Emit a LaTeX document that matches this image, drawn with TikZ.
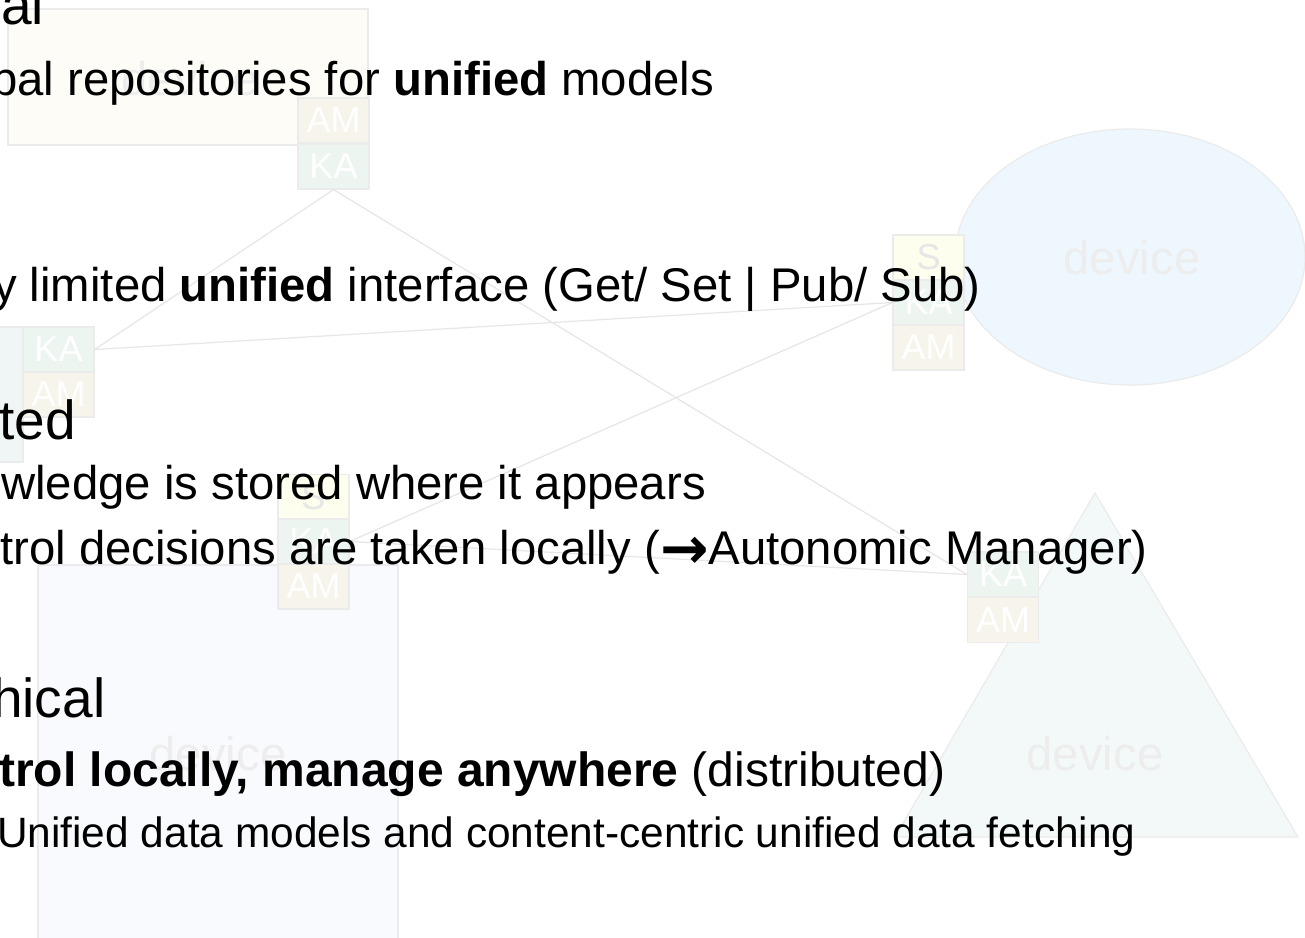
\documentclass[tikz,border=0pt]{standalone}
\usepackage{fontspec}
\setmainfont{Liberation Sans}
\newfontfamily\arrowfont{DejaVu Sans}
\usetikzlibrary{shapes.geometric}
\definecolor{rimgray}{HTML}{EBEBEB}
\definecolor{linkgray}{HTML}{E6E6E6}
\definecolor{creamfill}{HTML}{FDFCF7}
\definecolor{ellfill}{HTML}{EDF7FD}
\definecolor{trifill}{HTML}{F3F9F9}
\definecolor{rectfill}{HTML}{F9FAFD}
\definecolor{tealfill}{HTML}{EFF6F5}
\definecolor{amfill}{HTML}{F7F4EB}
\definecolor{kafill}{HTML}{ECF5F0}
\definecolor{sfill}{HTML}{FEFEEE}
\definecolor{devtext}{HTML}{EEEDED}
\definecolor{slabel}{HTML}{E6E6E6}
\begin{document}
\begin{tikzpicture}[x=1pt,y=-1pt,
  shapeline/.style={draw=rimgray,line width=1.2pt},
  cell/.style={draw=rimgray,line width=1.2pt,minimum width=71pt,minimum height=45pt,inner sep=0pt,text=white,font=\fontsize{36}{40}\selectfont},
  amcell/.style={cell,fill=amfill},
  kacell/.style={cell,fill=kafill},
  scell/.style={cell,fill=sfill,text=slabel},
  devlabel/.style={text=devtext,inner sep=0pt,anchor=base,font=\fontsize{47.3}{56}\selectfont},
  link/.style={draw=linkgray,line width=1.2pt},
  lvlone/.style={anchor=base west,inner sep=0pt,font=\fontsize{55}{64}\selectfont},
  lvltwo/.style={anchor=base west,inner sep=0pt,font=\fontsize{47.3}{56}\selectfont},
  lvlthree/.style={anchor=base west,inner sep=0pt,font=\fontsize{42.4}{50}\selectfont}]
\useasboundingbox (0,0) rectangle (1305,937);
\clip (0,0) rectangle (1305,937);
\fill[white] (0,0) rectangle (1305,937);

% background device shapes
\draw[shapeline,fill=creamfill] (8,9) rectangle (368,145);
\draw[shapeline,fill=tealfill] (-60,327) rectangle (23,462);
\draw[shapeline,fill=ellfill] (1130,257) ellipse [x radius=175,y radius=128];
\draw[shapeline,fill=trifill] (1095,493) -- (1298,837) -- (895,837) -- cycle;
\draw[shapeline,fill=rectfill] (38,565) rectangle (398,960);
\node[devlabel] (d1) at (190,95) {device};
\node[devlabel] (d2) at (1132,274) {device};
\node[devlabel] (d3) at (1095,770) {device};
\node[devlabel] (d4) at (218,770) {device};

% agent stacks
\node[amcell] (tAM) at (333.5,120.5) {AM};
\node[kacell] (tKA) at (333.5,166.5) {KA};
\node[kacell] (lKA) at (58.5,349.5) {KA};
\node[amcell] (lAM) at (58.5,394.5) {AM};
\node[scell] (rS) at (928.5,257.5) {S};
\node[kacell] (rKA) at (928.5,302.5) {KA};
\node[amcell] (rAM) at (928.5,347.5) {AM};
\node[scell] (cS) at (313.5,497) {S};
\node[kacell] (cKA) at (313.5,541.5) {KA};
\node[amcell] (cAM) at (313.5,586.5) {AM};
\node[kacell] (bKA) at (1003,574.5) {KA};
\node[amcell] (bAM) at (1003,620) {AM};

% links
\draw[link] (tKA.south) -- (lKA.east);
\draw[link] (tKA.south) -- (bKA.west);
\draw[link] (lKA.east) -- (rKA.west);
\draw[link] (cKA.east) -- (rKA.west);
\draw[link] (cKA.east) -- (bKA.west);

% text
\node[lvlone] (t1) at (1,24) {al};
\node[lvltwo] (t2) at (-9,95) {bal repositories for \textbf{unified} models};
\node[lvltwo] (t3) at (-7,301) {y limited \textbf{unified} interface (Get/ Set | Pub/ Sub)};
\node[lvlone] (t4) at (-1,439) {ted};
\node[lvltwo] (t5) at (1,499) {wledge is stored where it appears};
\node[lvltwo] (t6) at (0,564) {trol decisions are taken locally (\raisebox{-4pt}{\fontsize{58}{60}\arrowfont\bfseries →}Autonomic Manager)};
\node[lvlone] (t7) at (-8,717) {hical};
\node[lvltwo,font=\fontsize{48}{56}\selectfont] (t8) at (-1,786) {\textbf{trol locally, manage anywhere} (distributed)};
\node[lvlthree] (t9) at (-3,847) {Unified data models and content-centric unified data fetching};
\end{tikzpicture}
\end{document}
